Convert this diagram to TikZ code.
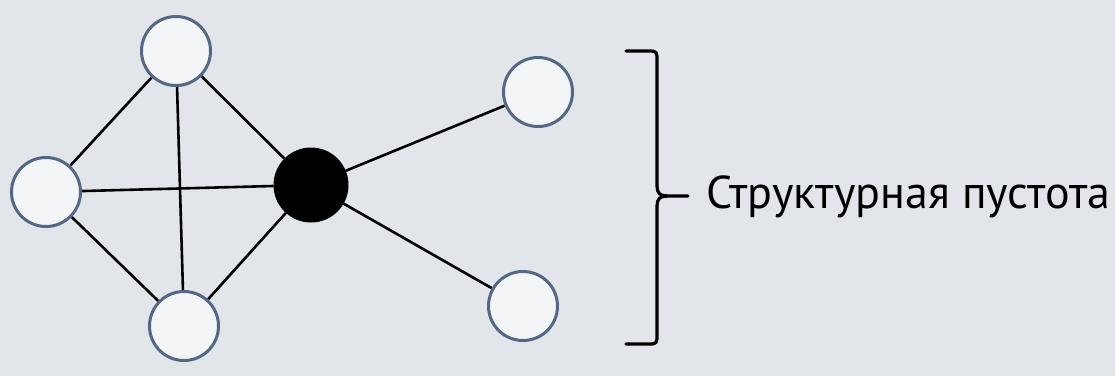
\documentclass[tikz,border=0pt]{standalone}
\usepackage{fontspec}
\setmainfont{PT Sans}
\definecolor{bg}{RGB}{226,229,233}
\definecolor{nodefill}{RGB}{244,245,247}
\definecolor{nodeedge}{RGB}{84,104,134}
\pgfdeclarelayer{back}
\pgfdeclarelayer{edges}
\pgfsetlayers{back,edges,main}
\begin{document}
\begin{tikzpicture}[x=1pt,y=-1pt,
  vertex/.style={circle,draw=nodeedge,fill=nodefill,line width=3pt,minimum size=69pt,inner sep=0pt},
  hub/.style={circle,draw=black,fill=black,line width=2pt,minimum size=73pt,inner sep=0pt},
  edge/.style={draw=black,line width=2.6pt},
  bracketline/.style={draw=black,line width=3.2pt,line cap=round}]
\begin{pgfonlayer}{back}
\fill[bg] (0,0) rectangle (1115,376);
\end{pgfonlayer}
\useasboundingbox (0,0) rectangle (1115,376);
\node[vertex] (t) at (176,51) {};
\node[vertex] (l) at (46,192) {};
\node[vertex] (b) at (184,326) {};
\node[hub] (h) at (311,185) {};
\node[vertex] (r1) at (538,92) {};
\node[vertex] (r2) at (523,306) {};
\begin{pgfonlayer}{edges}
\draw[edge] (t) -- (l);
\draw[edge] (t) -- (b);
\draw[edge] (t) -- (h);
\draw[edge] (l) -- (h);
\draw[edge] (l) -- (b);
\draw[edge] (b) -- (h);
\draw[edge] (h) -- (r1);
\draw[edge] (h) -- (r2);
\end{pgfonlayer}
\coordinate (tip) at (688,196);
\draw[bracketline] (626,51) -- (650,51) .. controls (657,51) and (657,53) .. (657,60) -- (657,186) .. controls (657,193) and (660,196) .. (667,196) -- (tip);
\draw[bracketline] (626,344) -- (650,344) .. controls (657,344) and (657,342) .. (657,335) -- (657,206) .. controls (657,199) and (660,196) .. (667,196);
\node[anchor=base west,inner sep=0pt,font=\fontsize{46}{52}\selectfont] (lbl) at (706,208) {Структурная пустота};
\end{tikzpicture}
\end{document}
